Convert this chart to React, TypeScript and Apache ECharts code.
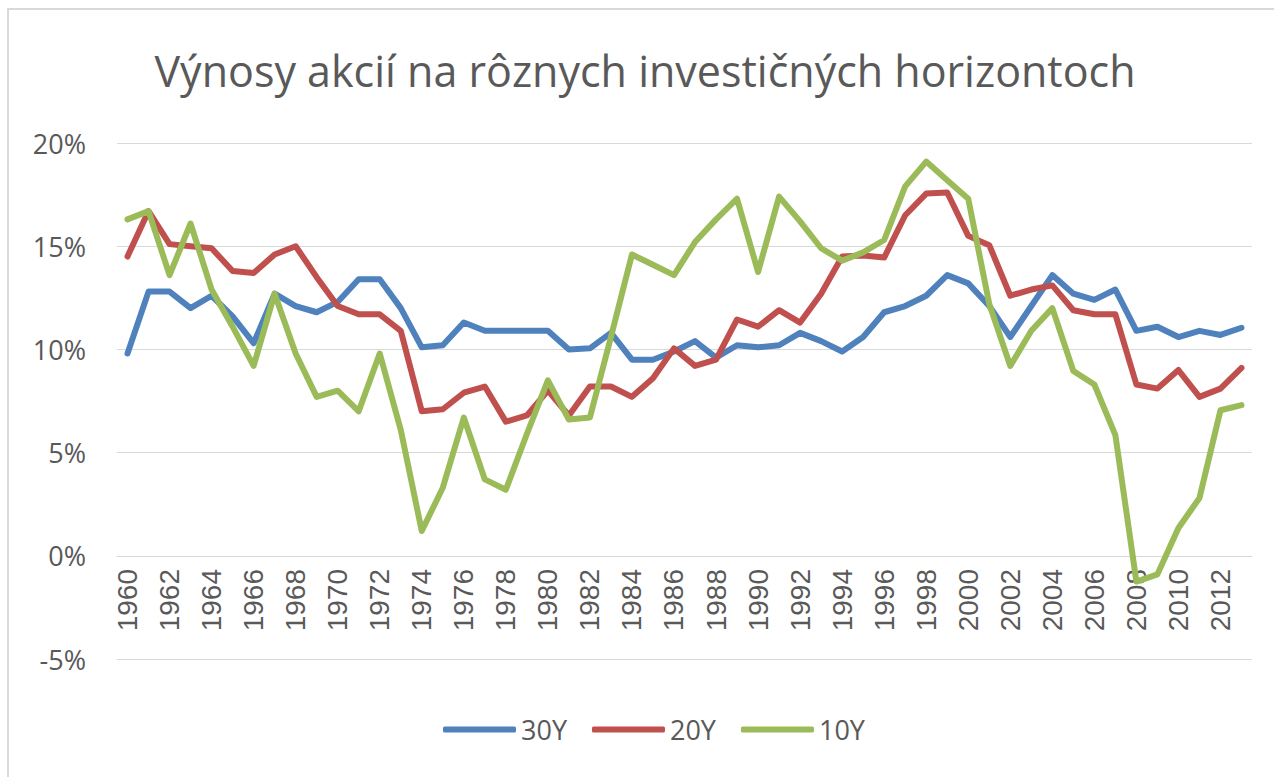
import React, { useEffect, useRef } from "react";
import * as echarts from "echarts";

const years: string[] = [];
for (let y = 1960; y <= 2013; y++) years.push(String(y));

const s30Y = [
  9.8, 12.8, 12.8, 12.0, 12.6, 11.6, 10.3, 12.7, 12.1, 11.8,
  12.3, 13.4, 13.4, 12.0, 10.1, 10.2, 11.3, 10.9, 10.9, 10.9,
  10.9, 10.0, 10.05, 10.8, 9.5, 9.5, 9.9, 10.4, 9.6, 10.2,
  10.1, 10.2, 10.8, 10.4, 9.9, 10.6, 11.8, 12.1, 12.6, 13.6,
  13.2, 12.1, 10.6, 12.1, 13.6, 12.7, 12.4, 12.9, 10.9, 11.1,
  10.6, 10.9, 10.7, 11.05,
];
const s20Y = [
  14.5, 16.7, 15.1, 15.0, 14.9, 13.8, 13.7, 14.6, 15.0, 13.5,
  12.1, 11.7, 11.7, 10.9, 7.0, 7.1, 7.9, 8.2, 6.5, 6.8,
  8.0, 6.8, 8.2, 8.2, 7.7, 8.6, 10.05, 9.2, 9.5, 11.45,
  11.1, 11.9, 11.3, 12.7, 14.5, 14.55, 14.45, 16.5, 17.55, 17.6,
  15.5, 15.05, 12.6, 12.9, 13.1, 11.9, 11.7, 11.7, 8.3, 8.1,
  9.0, 7.7, 8.1, 9.1,
];
const s10Y = [
  16.3, 16.7, 13.6, 16.1, 12.9, 11.1, 9.2, 12.7, 9.8, 7.7,
  8.0, 7.0, 9.8, 6.1, 1.2, 3.3, 6.7, 3.7, 3.2, 5.9,
  8.5, 6.6, 6.7, 10.6, 14.6, 14.1, 13.6, 15.2, 16.3, 17.3,
  13.75, 17.4, 16.2, 14.9, 14.3, 14.7, 15.3, 17.9, 19.1, 18.2,
  17.3, 12.2, 9.2, 10.9, 12.0, 8.95, 8.3, 5.85, -1.25, -0.9,
  1.35, 2.8, 7.05, 7.3,
];
const seriesNames = ["30Y", "20Y", "10Y"];
const seriesColors = ["#4f81bd", "#c0504d", "#9bbb59"];
const titleText = "Výnosy akcií na rôznych investičných horizontoch";

export default function App() {
  const ref = useRef<HTMLDivElement>(null);
  useEffect(() => {
    if (!ref.current) return;
    const chart = echarts.init(ref.current, undefined, { renderer: "svg" });
    const data = [s30Y, s20Y, s10Y];
    chart.setOption({
      animation: false,
      backgroundColor: "#ffffff",
      graphic: [
        {
          type: "rect",
          shape: { x: 8, y: 9, width: 1400, height: 900 },
          style: { fill: "none", stroke: "#d9d9d9", lineWidth: 2 },
          silent: true,
        },
        {
          type: "text",
          x: 645,
          y: 70,
          style: {
            text: titleText,
            align: "center",
            verticalAlign: "middle",
            fontFamily: "Open Sans",
            fontSize: 43,
            fill: "#595959",
          },
        },
      ],
      legend: {
        data: seriesNames,
        left: 438,
        top: 711,
        icon: "roundRect",
        itemWidth: 73,
        itemHeight: 6,
        itemGap: 25,
        textStyle: { fontFamily: "Open Sans", fontSize: 27, color: "#595959" },
      },
      grid: { left: 117, right: 22, top: 143, bottom: 118, containLabel: false },
      xAxis: {
        type: "category",
        data: years,
        boundaryGap: true,
        position: "bottom",
        offset: -103,
        axisLine: { show: true, onZero: false, lineStyle: { color: "#d9d9d9", width: 1 } },
        axisTick: { show: false },
        axisLabel: {
          interval: 1,
          rotate: 90,
          margin: 13,
          fontFamily: "Liberation Sans",
          fontSize: 28,
          color: "#595959",
        },
      },
      yAxis: {
        type: "value",
        min: -5,
        max: 20,
        interval: 5,
        axisLine: { show: false },
        axisTick: { show: false },
        axisLabel: {
          formatter: "{value}%",
          margin: 31,
          fontFamily: "Open Sans",
          fontSize: 27,
          color: "#595959",
        },
        splitLine: { lineStyle: { color: "#d9d9d9", width: 1 } },
      },
      series: seriesNames.map((name, i) => ({
        name,
        type: "line",
        data: data[i],
        symbol: "none",
        smooth: false,
        color: seriesColors[i],
        lineStyle: { width: 6, color: seriesColors[i], cap: "round", join: "round" },
        z: 2 + i,
      })),
    });
    return () => chart.dispose();
  }, []);
  return (
    <div
      ref={ref}
      style={{ position: "fixed", left: 0, top: 0, width: 1274, height: 777 }}
    />
  );
}
